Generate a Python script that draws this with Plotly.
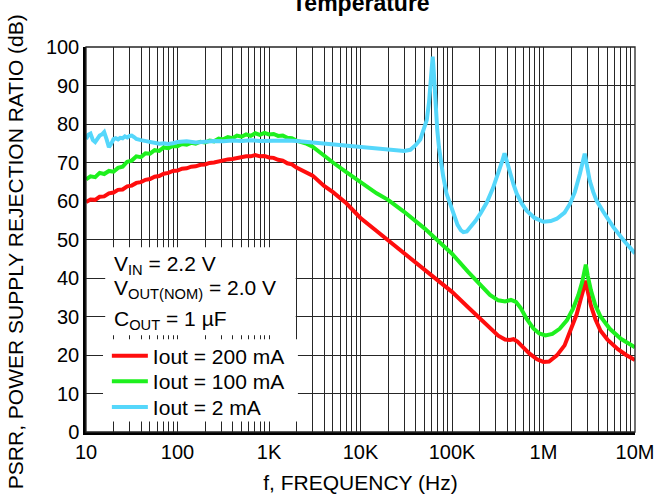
import plotly.graph_objects as go

# ---------------- data ----------------
# Frequency grid for the low-frequency (noisy) part of the 200 mA / 100 mA curves, Hz
freq_lo = [10, 11.2, 12.6, 14.1, 15.8, 17.8, 20, 22.4, 25.1, 28.2, 31.6, 35.5, 39.8,
           44.7, 50.1, 56.2, 63.1, 70.8, 79.4, 89.1, 100, 112, 126, 141, 158, 178,
           200, 224, 251, 282, 316, 355, 398, 447, 501, 562, 631, 708, 794, 891,
           1000, 1122, 1259, 1413, 1585, 1778, 1995]

# Iout = 200 mA
freq_200 = freq_lo + [2500, 3000, 4000, 5000, 7000, 10000, 15000, 20000, 30000, 50000,
                      70000, 100000, 150000, 200000, 260000, 320000, 380000, 430000,
                      470000, 520000, 600000, 700000, 850000, 1000000, 1150000, 1400000,
                      1700000, 2000000, 2300000, 2550000, 2750000, 2900000, 3050000,
                      3300000, 3700000, 4200000, 5000000, 6500000, 8000000, 10000000]
psrr_200 = [59.7, 60.4, 60.3, 61.1, 61.2, 62.0, 62.2, 62.9, 63.0, 63.8, 64.0, 64.7, 64.9,
            65.5, 65.7, 66.3, 66.5, 67.1, 67.3, 67.8, 67.9, 68.4, 68.5, 68.9, 69.0, 69.4,
            69.5, 69.9, 70.0, 70.3, 70.4, 70.8, 70.9, 71.2, 71.3, 71.6, 71.6, 71.9, 71.6,
            71.7, 71.3, 71.2, 70.7, 70.5, 69.8, 69.5, 68.7,
            67.6, 66.6, 63.9, 62.3, 59.4, 55.6, 52.2, 49.8, 46.4, 42.4,
            39.6, 36.4, 32.4, 29.6, 26.9, 25.0, 24.0, 23.9,
            24.1, 23.5, 22.0, 20.4, 18.9, 18.2, 18.3, 19.9,
            22.5, 26.5, 30.5, 34.5, 37.8, 39.3, 36.5,
            32.8, 29.2, 26.3, 24.0, 21.5, 20.0, 18.7]

# Iout = 100 mA
freq_100 = freq_lo + [2500, 3000, 4000, 5000, 7000, 10000, 15000, 20000, 30000, 50000,
                      70000, 100000, 150000, 200000, 260000, 320000, 380000, 440000,
                      500000, 560000, 650000, 775000, 900000, 1050000, 1250000, 1500000,
                      1800000, 2100000, 2400000, 2650000, 2800000, 2900000, 3050000,
                      3300000, 3700000, 4200000, 5300000, 7000000, 10000000]
psrr_100 = [65.6, 66.4, 66.2, 67.3, 67.0, 67.8, 67.6, 68.6, 68.9, 70.2, 70.5, 71.6, 71.4,
            72.4, 72.3, 73.2, 73.0, 73.9, 73.7, 74.3, 74.2, 74.8, 74.6, 75.1, 74.9, 75.4,
            75.2, 75.7, 75.5, 76.2, 76.0, 76.6, 76.3, 77.0, 76.7, 77.3, 76.9, 77.6, 77.2,
            77.7, 77.3, 77.4, 76.9, 77.0, 76.4, 76.3, 75.7,
            75.0, 74.1, 71.6, 70.0, 67.5, 64.8, 62.0, 60.3, 57.2, 52.9,
            49.8, 46.3, 41.6, 38.4, 35.6, 34.2, 33.9, 34.3,
            33.8, 32.3, 29.5, 26.9, 25.6, 25.1, 25.5, 26.8,
            29.0, 32.0, 35.5, 39.0, 41.8, 43.5, 40.5,
            36.8, 32.8, 30.0, 26.8, 24.2, 22.0]

# Iout = 2 mA
freq_2 = [10, 10.6, 11.2, 11.9, 12.6, 13.3, 14.1, 15.0, 15.8, 16.8, 17.8, 18.8, 20.0,
          21.1, 22.4, 23.7, 25.1, 26.6, 28.2, 30.0, 31.6, 33.5, 35.5, 39.8, 44.7, 50.1,
          56.2, 63.1, 70.8, 79.4, 89.1, 100, 126, 158, 200, 251, 316, 398, 501, 631,
          794, 1000, 1259, 1585, 2000, 3000, 4000, 5000, 7000, 10000, 15000, 20000,
          25000, 30000, 35000, 40000, 45000, 50000, 53000, 56000, 58500, 60500, 61500,
          62500, 64000, 66500, 69000, 72000, 76000, 80000, 87000, 100000, 115000,
          125000, 133000, 145000, 160000, 180000, 205000, 240000, 280000, 320000,
          350000, 375000, 400000, 430000, 470000, 510000, 580000, 655000, 800000,
          1000000, 1200000, 1400000, 1700000, 1950000, 2200000, 2500000, 2700000,
          2820000, 2950000, 3200000, 3500000, 3800000, 4500000, 5800000, 7500000,
          10000000]
psrr_2 = [76.1, 77.2, 77.5, 75.8, 75.3, 76.2, 77.0, 77.3, 77.9, 76.0, 74.0, 74.8, 76.1,
          76.3, 76.0, 76.4, 76.3, 76.8, 76.5, 76.9, 77.0, 76.6, 76.1, 75.8, 75.6, 75.3,
          75.2, 74.9, 75.0, 74.8, 75.0, 75.3, 75.5, 75.2, 75.4, 75.6, 75.5, 75.7, 75.6,
          75.8, 75.6, 75.7, 75.6, 75.7, 75.6, 75.2, 74.9, 74.6, 74.2, 73.9, 73.6, 73.4,
          73.1, 73.0, 73.3, 74.5, 76.0, 78.8, 81.0, 85.5, 90.5, 95.0, 97.5,
          95.5, 90.0, 84.4, 78.5, 74.0, 70.0, 66.5, 62.0, 57.8, 53.8,
          52.4, 51.9, 52.1, 53.3, 54.8, 56.8, 59.6, 63.3, 67.0,
          70.0, 72.4, 69.8, 67.1, 64.3, 61.9, 59.3, 57.5, 55.6,
          54.6, 54.8, 55.4, 57.0, 59.3, 62.3, 67.1, 70.6,
          72.3, 69.8, 65.3, 62.3, 60.1, 57.2, 53.2, 49.8,
          46.4]

series_names = ["Iout = 200 mA", "Iout = 100 mA", "Iout = 2 mA"]
series_colors = ["#ff0d0d", "#1ef01e", "#55d7fb"]

# Axis ticks
x_decades = [10, 100, 1000, 10000, 100000, 1000000, 10000000]
x_decade_labels = ["10", "100", "1K", "10K", "100K", "1M", "10M"]
y_ticks = [0, 10, 20, 30, 40, 50, 60, 70, 80, 90, 100]
y_labels = ["0", "10", "20", "30", "40", "50", "60", "70", "80", "90", "100"]

# conditions box text
cond_lines = ["V<sub>IN</sub> = 2.2 V",
              "V<sub>OUT(NOM)</sub> = 2.0 V",
              "C<sub>OUT</sub> = 1 \u00b5F"]

# ---------------- figure ----------------
FONT = "Liberation Sans, Arial, Helvetica, sans-serif"
GRID = "#262626"

# minor log gridlines at 2..9 x each decade
x_minor = [d * m for d in x_decades[:-1] for m in range(2, 10)]

fig = go.Figure()
legend_ids = ["legend", "legend2", "legend3"]
for f, p, name, col, lg in zip([freq_200, freq_100, freq_2],
                               [psrr_200, psrr_100, psrr_2],
                               series_names, series_colors, legend_ids):
    fig.add_trace(go.Scatter(x=f, y=p, mode="lines", name=name, legend=lg,
                             line=dict(color=col, width=4)))

# one legend box per row so the rows can sit at the chart's own spacing
legend_style = dict(x=0.038, xanchor="left", yanchor="middle", bgcolor="rgba(0,0,0,0)",
                    borderwidth=0, font=dict(size=21, family=FONT, color="black"),
                    itemwidth=36)
fig.update_layout(
    width=655, height=504,
    margin=dict(l=86, r=20, t=47, b=72, pad=0),
    paper_bgcolor="white", plot_bgcolor="white",
    font=dict(family=FONT, color="black", size=20),
    showlegend=True,
    legend=dict(y=0.197, **legend_style),
    legend2=dict(y=0.131, **legend_style),
    legend3=dict(y=0.064, **legend_style),
)

fig.update_xaxes(type="log", range=[1, 7], tickvals=x_decades, ticktext=x_decade_labels,
                 showgrid=True, gridcolor=GRID, gridwidth=1.3, zeroline=False,
                 minor=dict(tickmode="array", tickvals=x_minor, showgrid=True,
                            gridcolor=GRID, gridwidth=1.3, ticks=""),
                 showline=True, linecolor="black", linewidth=2.5, ticks="",
                 automargin=False, tickfont=dict(size=20), ticklabelstandoff=0,
                 title=dict(text="f, FREQUENCY (Hz)", font=dict(size=21), standoff=14))
fig.update_yaxes(range=[0, 100], tickvals=y_ticks, ticktext=y_labels,
                 showgrid=True, gridcolor=GRID, gridwidth=1.3, zeroline=False,
                 showline=True, linecolor="black", linewidth=2.5, ticks="",
                 automargin=False, tickfont=dict(size=20), ticklabelstandoff=0)

# thin frame on top/right
fig.add_shape(type="rect", xref="paper", yref="paper", x0=0, x1=1, y0=0, y1=1,
              line=dict(color=GRID, width=1.3), fillcolor="rgba(0,0,0,0)", layer="above")
# white panels behind the conditions text and the legend
fig.add_shape(type="rect", xref="paper", yref="paper", x0=0.035, x1=0.382,
              y0=0.251, y1=0.48, line=dict(width=0), fillcolor="white", layer="above")
fig.add_shape(type="rect", xref="paper", yref="paper", x0=0.031, x1=0.386,
              y0=0.027, y1=0.241, line=dict(width=0), fillcolor="white", layer="above")

for txt, yy in zip(cond_lines, [0.435, 0.372, 0.29]):
    fig.add_annotation(text=txt, xref="paper", yref="paper", x=0.048, y=yy,
                       xanchor="left", yanchor="middle", showarrow=False,
                       font=dict(size=21, family=FONT, color="black"))

fig.add_annotation(text="<b>Temperature</b>", xref="paper", yref="paper",
                   x=0.5, y=1.115, xanchor="center", yanchor="middle", showarrow=False,
                   font=dict(size=23, family=FONT, color="black"))

fig.add_annotation(text="PSRR, POWER SUPPLY REJECTION RATIO (dB)", textangle=-90,
                   xref="paper", yref="paper", x=-0.128, y=0.469,
                   xanchor="center", yanchor="middle", showarrow=False,
                   font=dict(size=21, family=FONT, color="black"))

fig.write_html("out.html")
